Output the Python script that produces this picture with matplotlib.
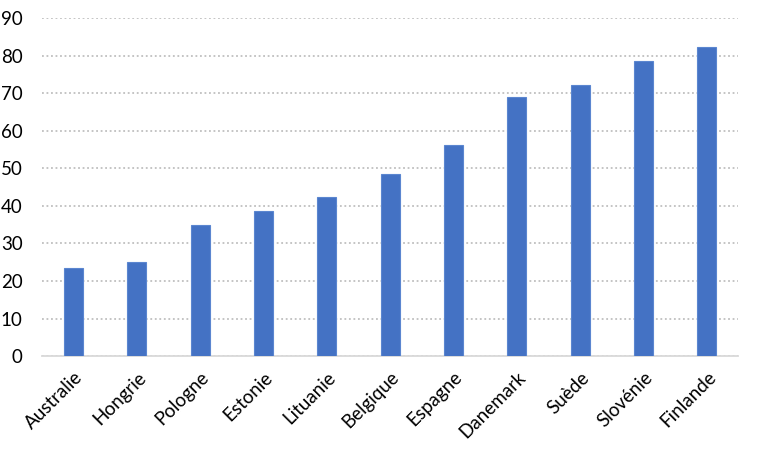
import matplotlib.pyplot as plt
import numpy as np

countries = ['Australie', 'Hongrie', 'Pologne', 'Estonie', 'Lituanie', 'Belgique',
             'Espagne', 'Danemark', 'Suède', 'Slovénie', 'Finlande']
values = [23.4, 25.1, 34.9, 38.7, 42.3, 48.5, 56.2, 68.9, 72.1, 78.5, 82.2]
yticks = [0, 10, 20, 30, 40, 50, 60, 70, 80, 90]

plt.rcParams['font.family'] = ['Lato', 'DejaVu Sans']

fig = plt.figure(figsize=(7.57, 4.53), dpi=100)
ax = fig.add_axes([0.0555, 0.214, 0.92, 0.746])

x = np.arange(len(countries))
ax.bar(x, values, width=0.3, color='#4472C4', edgecolor='#5b86d0', linewidth=0.8, zorder=3)

ax.set_xlim(-0.5, len(countries) - 0.5)
ax.set_ylim(0, 90)
ax.set_yticks(yticks)
ax.set_yticklabels([str(t) for t in yticks], fontsize=13.5, color='#000000')
ax.set_xticks(x)
ax.set_xticklabels(countries, rotation=45, ha='right', rotation_mode='anchor',
                   fontsize=13.5, color='#000000')

ax.yaxis.grid(True, linestyle=(0, (1, 1.5)), color='#bfbfbf', linewidth=1.3, zorder=0)
ax.set_axisbelow(True)
for s in ['top', 'right', 'left']:
    ax.spines[s].set_visible(False)
ax.spines['bottom'].set_color('#d9d9d9')
ax.spines['bottom'].set_linewidth(1.3)
ax.tick_params(axis='both', length=0)
ax.tick_params(axis='y', pad=14)
ax.tick_params(axis='x', pad=9)

fig.savefig('out.png', dpi=100)
